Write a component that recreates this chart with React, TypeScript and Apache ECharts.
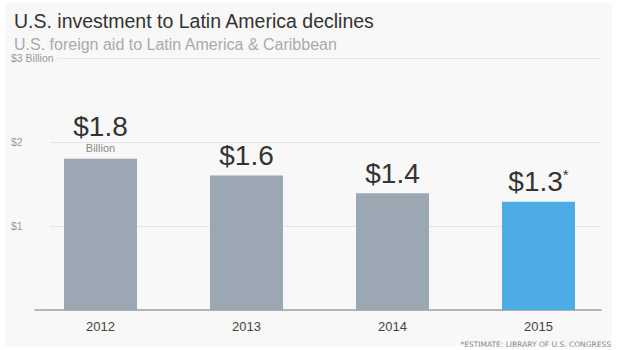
import React, { useEffect, useRef } from "react";
import * as echarts from "echarts";

const years = ["2012", "2013", "2014", "2015"];
const values = [1.8, 1.6, 1.39, 1.29];
const valueLabels = ["$1.8", "$1.6", "$1.4", "$1.3"];
const estimateFlags = [false, false, false, true];
const yTicks = [0, 1, 2, 3];
const yTickLabels = ["", "$1", "$2", "$3 Billion"];

const FONT = "'Helvetica Neue', 'Liberation Sans', Arial, sans-serif";
const PANEL = "#f8f8f8";

export default function App() {
  const ref = useRef<HTMLDivElement>(null);
  useEffect(() => {
    if (!ref.current) return;
    const chart = echarts.init(ref.current, undefined, { renderer: "svg" });
    const barData = values.map((v, i) => ({
      value: v,
      itemStyle: { color: estimateFlags[i] ? "#4dace6" : "#9ba7b2" },
      label: {
        formatter:
          i === 0
            ? `{v|${valueLabels[i]}}\n{b|Billion}`
            : estimateFlags[i]
            ? `{v|${valueLabels[i]}}{s|*}`
            : `{v|${valueLabels[i]}}`,
      },
    }));
    chart.setOption({
      animation: false,
      backgroundColor: "#ffffff",
      textStyle: { fontFamily: FONT },
      title: [
        {
          text: "U.S. investment to Latin America declines",
          left: 9,
          top: 6,
          textStyle: { fontSize: 19.5, fontWeight: "normal", color: "#333", fontFamily: FONT },
        },
        {
          text: "U.S. foreign aid to Latin America & Caribbean",
          left: 9,
          top: 31,
          textStyle: { fontSize: 16, fontWeight: "normal", color: "#aaa", fontFamily: FONT },
        },
      ],
      graphic: [
        {
          type: "rect",
          z: -10,
          silent: true,
          shape: { x: 5, y: 3, width: 607, height: 343 },
          style: { fill: PANEL },
        },
        {
          type: "text",
          x: 611,
          y: 340,
          style: {
            text: "*ESTIMATE: LIBRARY OF U.S. CONGRESS",
            align: "right",
            verticalAlign: "top",
            font: "7.5px 'DejaVu Sans'",
            fill: "#8a8a8a",
          },
        },
      ],
      grid: [
        { left: 27.5, right: 5.5, top: 58, bottom: 40 },
        { left: 50, right: 16, top: 58, bottom: 40 },
        { left: 35, right: 16, top: 58, bottom: 40 },
      ],
      xAxis: [
        {
          type: "category",
          gridIndex: 0,
          data: years,
          axisLine: { show: false },
          axisTick: { show: false },
          axisLabel: { color: "#444", fontSize: 13, margin: 10, fontFamily: FONT },
        },
        { type: "value", gridIndex: 1, show: false, min: 0, max: 1 },
        {
          type: "value",
          gridIndex: 2,
          min: 0,
          max: 1,
          axisLine: { show: true, lineStyle: { color: "#a0a0a0", width: 1.5 } },
          axisTick: { show: false },
          axisLabel: { show: false },
          splitLine: { show: false },
        },
      ],
      yAxis: [
        { type: "value", gridIndex: 0, min: 0, max: 3, show: false },
        {
          type: "value",
          gridIndex: 1,
          min: 0,
          max: 3,
          interval: 1,
          axisLine: { show: false },
          axisTick: { show: false },
          splitLine: { show: true, lineStyle: { color: "#e4e4e4", width: 1 } },
          axisLabel: {
            align: "left",
            margin: 39,
            color: "#9a9a9a",
            fontSize: 10.5,
            fontFamily: FONT,
            backgroundColor: PANEL,
            padding: [0, 4, 0, 0],
            formatter: (v: number) => yTickLabels[yTicks.indexOf(v)] ?? "",
          },
        },
        { type: "value", gridIndex: 2, min: 0, max: 3, show: false },
      ],
      series: [
        {
          type: "bar",
          xAxisIndex: 0,
          yAxisIndex: 0,
          barWidth: 73,
          data: barData,
          z: 5,
          label: {
            show: true,
            position: "top",
            distance: 5,
            rich: {
              v: { fontSize: 28, color: "#333", fontFamily: FONT, lineHeight: 30 },
              b: { fontSize: 11, color: "#888", fontFamily: FONT, lineHeight: 12 },
              s: { fontSize: 15, color: "#333", fontFamily: FONT, verticalAlign: "top", lineHeight: 28 },
            },
          },
        },
      ],
    });
    return () => chart.dispose();
  }, []);
  return (
    <div
      ref={ref}
      style={{ position: "absolute", left: 0, top: 0, width: 617, height: 350 }}
    />
  );
}
